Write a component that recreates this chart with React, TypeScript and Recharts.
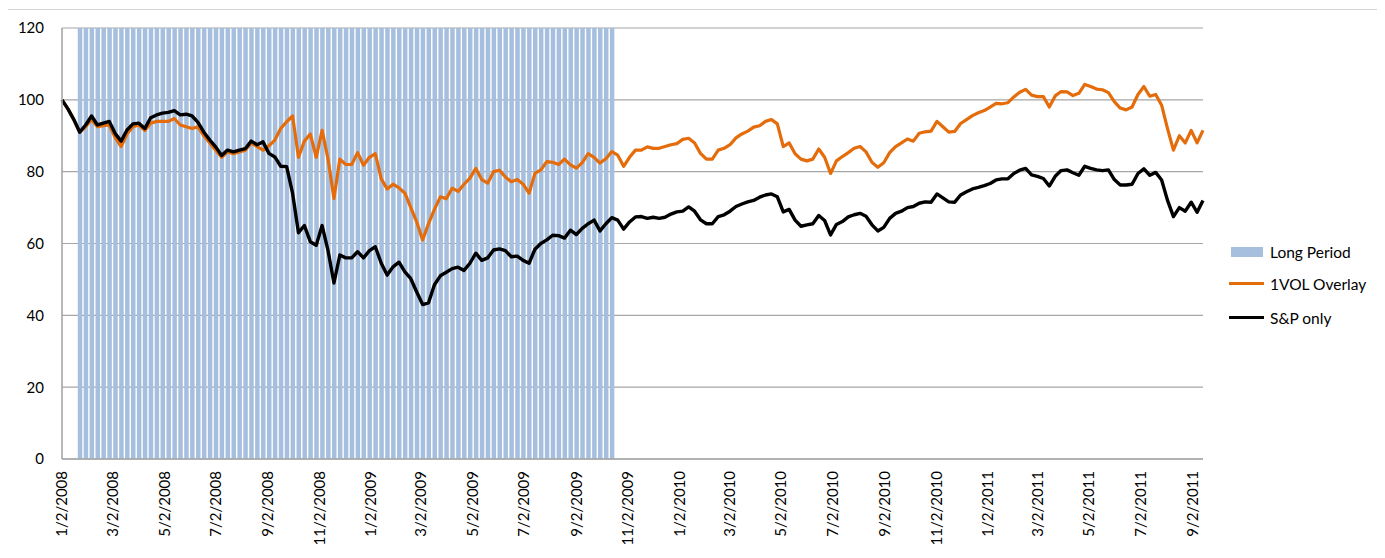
import React from "react";
import { ComposedChart, Bar, Line, XAxis, YAxis, CartesianGrid } from "recharts";

// weekly closes, first point = 1/2/2008, one point every 7 days
const START_LABEL = "1/2/2008";
const STEP_DAYS = 7;

const tickLabels = [
  "1/2/2008", "3/2/2008", "5/2/2008", "7/2/2008", "9/2/2008", "11/2/2008",
  "1/2/2009", "3/2/2009", "5/2/2009", "7/2/2009", "9/2/2009", "11/2/2009",
  "1/2/2010", "3/2/2010", "5/2/2010", "7/2/2010", "9/2/2010", "11/2/2010",
  "1/2/2011", "3/2/2011", "5/2/2011", "7/2/2011", "9/2/2011",
];
const yTicks = [0, 20, 40, 60, 80, 100, 120];

// shaded "long" window, bars drawn at the top of the axis
const longFrom = "1/23/2008";
const longTo = "10/15/2009";
const longHeight = 120;

const spOnly = [
  100, 97.5, 94.5, 91, 93, 95.5, 93, 93.5, 94, 90.6, 88.5, 91.6, 93.3, 93.5, 92, 95, 95.8,
  96.3, 96.5, 97, 95.8, 96, 95.5, 93.7, 91, 88.8, 86.9, 84.5, 86, 85.5, 86, 86.4, 88.5, 87.5,
  88.3, 85.1, 84.1, 81.5, 81.4, 74, 63, 65, 60.5, 59.5, 65, 58, 49, 56.8, 56, 56,
  57.7, 56, 58, 59.1, 54.5, 51.2, 53.5, 54.8, 52.1, 50.2, 46.5, 43, 43.5, 48.5, 51, 52,
  53, 53.4, 52.5, 54.5, 57.3, 55.3, 56, 58.2, 58.5, 58, 56.3, 56.5, 55.3, 54.5, 58.4, 60,
  61, 62.3, 62.2, 61.5, 63.7, 62.5, 64.2, 65.5, 66.5, 63.5, 65.5, 67.2, 66.5, 64, 66, 67.4,
  67.5, 67, 67.3, 67, 67.3, 68.2, 68.8, 69, 70.2, 69, 66.6, 65.5, 65.5, 67.5, 68, 69,
  70.3, 71, 71.6, 72, 72.9, 73.5, 73.8, 73, 68.8, 69.5, 66.5,
  64.8, 65.2, 65.5, 67.8, 66.4, 62.4, 65.3, 66.1, 67.4, 68, 68.4, 67.6, 65.2, 63.5, 64.5, 67,
  68.4, 69, 70, 70.3, 71.2, 71.6, 71.5, 73.8, 72.7, 71.6, 71.5, 73.5, 74.4, 75.2, 75.6, 76.1,
  76.7, 77.7, 78, 78, 79.5, 80.4, 80.9, 79.1, 78.7, 78.1, 76, 78.7, 80.3, 80.5, 79.7, 79,
  81.5, 80.9, 80.5, 80.3, 80.5, 77.8, 76.3, 76.3, 76.5, 79.5, 80.8, 79, 79.8, 77.7, 72, 67.5,
  70, 69, 71.5, 68.7, 72,
];

const oneVolOverlay = [
  100, 97.5, 94.5, 91, 92.5, 94.5, 92.5, 92.8, 93, 89.5, 87, 90.5, 92.5, 93, 91.5, 93.5, 94,
  94, 94, 94.8, 93, 92.5, 92, 92.5, 90, 88, 86, 84, 85.5, 85, 85.5, 86, 88, 87,
  86, 87.2, 88.8, 92, 93.9, 95.5, 84, 88.5, 90.5, 84, 91.5, 83.5, 72.5, 83.5, 82, 82,
  85.3, 81.8, 84, 85, 78, 75.2, 76.5, 75.5, 74, 70, 66, 61, 65.5, 69.5, 73, 72.5,
  75.4, 74.5, 76.5, 78.2, 80.9, 77.8, 76.8, 80, 80.4, 78.5, 77.2, 77.8, 76.5, 74, 79.5, 80.5,
  82.8, 82.6, 82, 83.5, 81.9, 81, 82.5, 85, 84, 82.4, 83.6, 85.6, 84.6, 81.5, 84, 86,
  86, 86.9, 86.5, 86.5, 87, 87.5, 87.8, 89, 89.3, 88, 85.1, 83.5, 83.5, 86, 86.5, 87.5,
  89.4, 90.5, 91.3, 92.4, 92.8, 94, 94.5, 93.3, 87, 88, 85,
  83.5, 83, 83.5, 86.3, 84, 79.5, 83, 84.2, 85.3, 86.5, 87, 85.5, 82.6, 81.2, 82.5, 85.3,
  87, 88, 89.1, 88.5, 90.7, 91.1, 91.3, 94, 92.5, 91, 91.2, 93.4, 94.5, 95.6, 96.4, 97,
  98, 99, 98.9, 99.2, 100.8, 102.1, 102.9, 101.3, 100.9, 100.9, 98, 101.1, 102.3, 102.2, 101.2, 101.8,
  104.3, 103.7, 103, 102.8, 102, 99.5, 97.7, 97.2, 98, 101.5, 103.7, 101, 101.5, 98.5, 92, 86,
  90, 88, 91.5, 88, 91.5,
];

const BLUE = "#a7bfde";
const ORANGE = "#e46c0a";
const GRID = "#a6a6a6";
const FONT = "Lato, 'Open Sans', sans-serif";

function toDay(label: string) {
  const [m, d, y] = label.split("/").map(Number);
  const [m0, d0, y0] = START_LABEL.split("/").map(Number);
  return Math.round((Date.UTC(y, m - 1, d) - Date.UTC(y0, m0 - 1, d0)) / 86400000);
}

const tickDays = tickLabels.map(toDay);
const labelByDay: Record<number, string> = {};
tickLabels.forEach((l, i) => (labelByDay[tickDays[i]] = l));

const fromDay = toDay(longFrom);
const toDayEnd = toDay(longTo);

const data = spOnly.map((sp, i) => {
  const day = i * STEP_DAYS;
  return {
    day,
    sp,
    vol: oneVolOverlay[i],
    long: day >= fromDay && day <= toDayEnd ? longHeight : null,
  };
});
const lastDay = data[data.length - 1].day;

function XTick({ x, y, payload }: any) {
  return (
    <text
      x={x}
      y={y + 12}
      transform={`rotate(-90, ${x}, ${y + 12})`}
      textAnchor="end"
      dy="0.36em"
      fontSize={15}
      fontFamily={FONT}
      fill="#000"
    >
      {labelByDay[payload.value]}
    </text>
  );
}

function YTick({ x, y, payload }: any) {
  return (
    <text x={x - 18} y={y} dy="0.36em" textAnchor="end" fontSize={15} fontFamily={FONT} fill="#000">
      {payload.value}
    </text>
  );
}

const legendText: React.CSSProperties = {
  position: "absolute",
  left: 1262,
  fontSize: 15.5,
  lineHeight: "20px",
  color: "#000",
  whiteSpace: "nowrap",
};

export default function App() {
  return (
    <div
      style={{
        position: "relative",
        width: 1369,
        height: 548,
        marginLeft: -1,
        marginTop: 1,
        border: "1px solid #d4d4d4",
        background: "#fff",
        fontFamily: FONT,
      }}
    >
      <ComposedChart width={1369} height={548} data={data} margin={{ top: 18, right: 174, left: 0, bottom: 9 }}>
        <CartesianGrid vertical={false} stroke={GRID} strokeWidth={1.2} />
        <XAxis
          dataKey="day"
          type="number"
          domain={[0, lastDay]}
          ticks={tickDays}
          interval={0}
          height={90}
          tickLine={false}
          tickSize={0}
          tickMargin={0}
          axisLine={{ stroke: GRID, strokeWidth: 1.6 }}
          tick={<XTick />}
        />
        <YAxis
          width={54}
          domain={[0, 120]}
          ticks={yTicks}
          interval={0}
          tickLine={false}
          tickSize={0}
          tickMargin={0}
          axisLine={{ stroke: GRID, strokeWidth: 1.6 }}
          tick={<YTick />}
        />
        <Bar dataKey="long" name="Long Period" fill={BLUE} barSize={4.5} isAnimationActive={false} />
        <Line
          dataKey="vol"
          name="1VOL Overlay"
          type="linear"
          stroke={ORANGE}
          strokeWidth={3.2}
          strokeLinejoin="round"
          dot={false}
          isAnimationActive={false}
        />
        <Line
          dataKey="sp"
          name="S&P only"
          type="linear"
          stroke="#000"
          strokeWidth={3.4}
          strokeLinejoin="round"
          dot={false}
          isAnimationActive={false}
        />
      </ComposedChart>

      {/* legend */}
      <div style={{ position: "absolute", left: 1223, top: 237, width: 32, height: 10, background: BLUE }} />
      <div style={{ ...legendText, top: 232 }}>Long Period</div>
      <div style={{ position: "absolute", left: 1221, top: 272, width: 35, height: 3, background: ORANGE }} />
      <div style={{ ...legendText, top: 264 }}>1VOL Overlay</div>
      <div style={{ position: "absolute", left: 1221, top: 306, width: 35, height: 3, background: "#000" }} />
      <div style={{ ...legendText, top: 298 }}>S&amp;P only</div>
    </div>
  );
}
